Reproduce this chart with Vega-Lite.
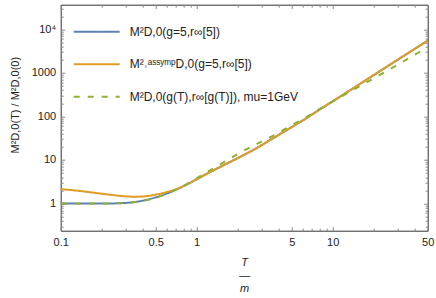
{
  "$schema": "https://vega.github.io/schema/vega-lite/v6.json",
  "width": 367,
  "height": 226,
  "autosize": {"type": "none"},
  "padding": {"left": 60.7, "top": 4.7, "right": 8.3, "bottom": 67.3},
  "background": "white",
  "config": {
    "view": {"stroke": "#333", "strokeWidth": 1},
    "font": "Liberation Sans",
    "axis": {"domain": false, "grid": false, "tickColor": "#888", "tickWidth": 1, "labelFont": "Liberation Sans", "labelFontSize": 11, "labelColor": "#222", "titleFont": "Liberation Sans", "titleFontWeight": "normal", "titleColor": "#222", "labelOverlap": false, "labelFlush": false},
    "legend": {"orient": "none", "legendX": 12, "legendY": 3, "symbolType": "stroke", "symbolSize": 2116, "symbolStrokeWidth": 2, "labelFont": "Liberation Sans", "labelFontSize": 12, "labelColor": "#222", "labelOffset": 9, "rowPadding": 2.5, "labelLimit": 400}
  },
  "data": {"values": [
    {"s": "a", "T": 0.1, "v": 1.0}, {"s": "a", "T": 0.15, "v": 1.0}, {"s": "a", "T": 0.2, "v": 1.0}, {"s": "a", "T": 0.25, "v": 1.005}, {"s": "a", "T": 0.3, "v": 1.03}, {"s": "a", "T": 0.35, "v": 1.08}, {"s": "a", "T": 0.4, "v": 1.16}, {"s": "a", "T": 0.45, "v": 1.26}, {"s": "a", "T": 0.5, "v": 1.38}, {"s": "a", "T": 0.6, "v": 1.68}, {"s": "a", "T": 0.7, "v": 2.05}, {"s": "a", "T": 0.8, "v": 2.5}, {"s": "a", "T": 0.9, "v": 3.02}, {"s": "a", "T": 1.0, "v": 3.6}, {"s": "a", "T": 1.2, "v": 4.9}, {"s": "a", "T": 1.5, "v": 7.0}, {"s": "a", "T": 2, "v": 11.0}, {"s": "a", "T": 2.5, "v": 15.8}, {"s": "a", "T": 3, "v": 21.9}, {"s": "a", "T": 4, "v": 37.5}, {"s": "a", "T": 5, "v": 57}, {"s": "a", "T": 6, "v": 80}, {"s": "a", "T": 8, "v": 143}, {"s": "a", "T": 10, "v": 222}, {"s": "a", "T": 15, "v": 497}, {"s": "a", "T": 20, "v": 885}, {"s": "a", "T": 30, "v": 1990}, {"s": "a", "T": 40, "v": 3530}, {"s": "a", "T": 50, "v": 5500},
    {"s": "b", "T": 0.1, "v": 2.13}, {"s": "b", "T": 0.12, "v": 2.03}, {"s": "b", "T": 0.15, "v": 1.88}, {"s": "b", "T": 0.2, "v": 1.68}, {"s": "b", "T": 0.25, "v": 1.54}, {"s": "b", "T": 0.3, "v": 1.46}, {"s": "b", "T": 0.35, "v": 1.43}, {"s": "b", "T": 0.4, "v": 1.45}, {"s": "b", "T": 0.45, "v": 1.5}, {"s": "b", "T": 0.5, "v": 1.6}, {"s": "b", "T": 0.6, "v": 1.82}, {"s": "b", "T": 0.7, "v": 2.1}, {"s": "b", "T": 0.8, "v": 2.52}, {"s": "b", "T": 0.9, "v": 3.03}, {"s": "b", "T": 1.0, "v": 3.6}, {"s": "b", "T": 1.2, "v": 4.9}, {"s": "b", "T": 1.5, "v": 7.0}, {"s": "b", "T": 2, "v": 11.0}, {"s": "b", "T": 2.5, "v": 15.8}, {"s": "b", "T": 3, "v": 21.9}, {"s": "b", "T": 4, "v": 37.5}, {"s": "b", "T": 5, "v": 57}, {"s": "b", "T": 6, "v": 80}, {"s": "b", "T": 8, "v": 143}, {"s": "b", "T": 10, "v": 222}, {"s": "b", "T": 15, "v": 497}, {"s": "b", "T": 20, "v": 885}, {"s": "b", "T": 30, "v": 1990}, {"s": "b", "T": 40, "v": 3530}, {"s": "b", "T": 50, "v": 5500},
    {"s": "c", "T": 0.1, "v": 1.0}, {"s": "c", "T": 0.2, "v": 1.0}, {"s": "c", "T": 0.25, "v": 1.005}, {"s": "c", "T": 0.3, "v": 1.03}, {"s": "c", "T": 0.35, "v": 1.08}, {"s": "c", "T": 0.4, "v": 1.15}, {"s": "c", "T": 0.45, "v": 1.24}, {"s": "c", "T": 0.5, "v": 1.35}, {"s": "c", "T": 0.6, "v": 1.66}, {"s": "c", "T": 0.7, "v": 2.07}, {"s": "c", "T": 0.8, "v": 2.55}, {"s": "c", "T": 0.9, "v": 3.12}, {"s": "c", "T": 1.0, "v": 3.8}, {"s": "c", "T": 1.2, "v": 5.3}, {"s": "c", "T": 1.5, "v": 8.0}, {"s": "c", "T": 2, "v": 13.7}, {"s": "c", "T": 2.5, "v": 19.8}, {"s": "c", "T": 3, "v": 26.5}, {"s": "c", "T": 4, "v": 42}, {"s": "c", "T": 5, "v": 63}, {"s": "c", "T": 6, "v": 86}, {"s": "c", "T": 8, "v": 147}, {"s": "c", "T": 10, "v": 220}, {"s": "c", "T": 15, "v": 450}, {"s": "c", "T": 20, "v": 745}, {"s": "c", "T": 30, "v": 1530}, {"s": "c", "T": 40, "v": 2600}, {"s": "c", "T": 50, "v": 3900}
  ]},
  "resolve": {"axis": {"x": "independent", "y": "independent"}},
  "layer": [
    {
      "transform": [{"filter": "datum.s === 'a'"}],
      "mark": {"type": "line", "strokeWidth": 2, "interpolate": "monotone"},
      "encoding": {
        "x": {"field": "T", "type": "quantitative", "scale": {"type": "log", "domain": [0.1, 50], "nice": false},
          "axis": {"orient": "bottom", "values": [0.1, 0.5, 1, 5, 10, 50], "tickSize": -4, "labelPadding": 10, "labelExpr": "format(datum.value, '~g')", "title": ["T", "—", "m"], "titleFontStyle": "italic", "titleFontSize": 11, "titleLineHeight": 13, "titleBaseline": "alphabetic", "titleY": 35, "titleX": 183.5, "titleAlign": "center"}},
        "y": {"field": "v", "type": "quantitative", "scale": {"type": "log", "domain": [0.237, 36800], "nice": false},
          "axis": {"orient": "left", "values": [1, 10, 100, 1000, 10000], "tickSize": -4, "labelPadding": 9, "labelExpr": "datum.value >= 10000 ? '10⁴' : format(datum.value, '~g')", "title": "M²D,0(T) / M²D,0(0)", "titleFontSize": 11, "titleX": -45, "titleY": 100, "titleAngle": -90, "titleAlign": "center", "titleBaseline": "middle"}},
        "color": {"field": "s", "type": "nominal", "scale": {"domain": ["a", "b", "c"], "range": ["#5E81B5", "#E19C24", "#8FB032"]},
          "legend": {"title": null, "labelExpr": "datum.value === 'a' ? 'M²D,0(g=5,r∞[5])' : datum.value === 'b' ? 'M²˒ᵃˢˢʸᵐᵖD,0(g=5,r∞[5])' : 'M²D,0(g(T),r∞[g(T)]), mu=1GeV'"}},
        "strokeDash": {"field": "s", "type": "nominal", "scale": {"domain": ["a", "b", "c"], "range": [[1, 0], [1, 0], [6, 8]]},
          "legend": {"title": null, "labelExpr": "datum.value === 'a' ? 'M²D,0(g=5,r∞[5])' : datum.value === 'b' ? 'M²˒ᵃˢˢʸᵐᵖD,0(g=5,r∞[5])' : 'M²D,0(g(T),r∞[g(T)]), mu=1GeV'"}}
      }
    },
    {
      "transform": [{"filter": "datum.s === 'b'"}],
      "mark": {"type": "line", "strokeWidth": 2, "interpolate": "monotone"},
      "encoding": {
        "x": {"field": "T", "type": "quantitative", "axis": {"orient": "top", "values": [0.1, 0.5, 1, 5, 10, 50], "tickSize": -4, "labels": false, "title": null}},
        "y": {"field": "v", "type": "quantitative", "axis": {"orient": "right", "values": [1, 10, 100, 1000, 10000], "tickSize": -4, "labels": false, "title": null}},
        "color": {"field": "s", "type": "nominal"},
        "strokeDash": {"field": "s", "type": "nominal"}
      }
    },
    {
      "transform": [{"filter": "datum.s === 'c'"}],
      "mark": {"type": "line", "strokeWidth": 2, "interpolate": "monotone"},
      "encoding": {
        "x": {"field": "T", "type": "quantitative", "axis": {"orient": "bottom", "values": [0.2, 0.3, 0.4, 0.6, 0.7, 0.8, 0.9, 2, 3, 4, 6, 7, 8, 9, 20, 30, 40], "tickSize": -2.5, "labels": false, "title": null}},
        "y": {"field": "v", "type": "quantitative", "axis": {"orient": "left", "values": [0.3, 0.4, 0.5, 0.6, 0.7, 0.8, 0.9, 2, 3, 4, 5, 6, 7, 8, 9, 20, 30, 40, 50, 60, 70, 80, 90, 200, 300, 400, 500, 600, 700, 800, 900, 2000, 3000, 4000, 5000, 6000, 7000, 8000, 9000, 20000, 30000], "tickSize": -2.5, "labels": false, "title": null}},
        "color": {"field": "s", "type": "nominal"},
        "strokeDash": {"field": "s", "type": "nominal"}
      }
    },
    {
      "transform": [{"filter": "datum.s === 'c'"}],
      "mark": {"type": "line", "opacity": 0},
      "encoding": {
        "x": {"field": "T", "type": "quantitative", "axis": {"orient": "top", "values": [0.2, 0.3, 0.4, 0.6, 0.7, 0.8, 0.9, 2, 3, 4, 6, 7, 8, 9, 20, 30, 40], "tickSize": -2.5, "labels": false, "title": null}},
        "y": {"field": "v", "type": "quantitative", "axis": {"orient": "right", "values": [0.3, 0.4, 0.5, 0.6, 0.7, 0.8, 0.9, 2, 3, 4, 5, 6, 7, 8, 9, 20, 30, 40, 50, 60, 70, 80, 90, 200, 300, 400, 500, 600, 700, 800, 900, 2000, 3000, 4000, 5000, 6000, 7000, 8000, 9000, 20000, 30000], "tickSize": -2.5, "labels": false, "title": null}}
      }
    }
  ]
}
